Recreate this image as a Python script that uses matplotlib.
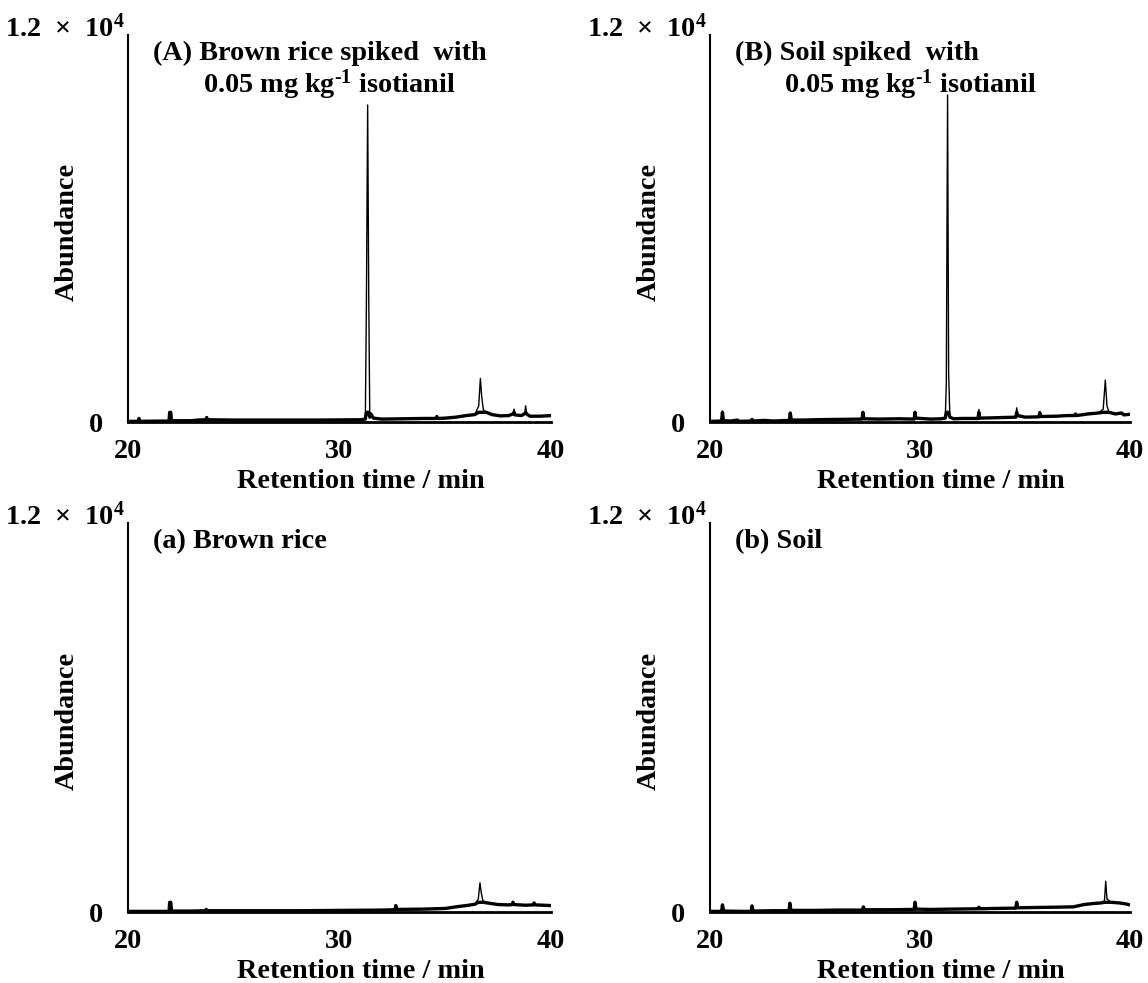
import numpy as np
import matplotlib
matplotlib.use("Agg")
import matplotlib.pyplot as plt

plt.rcParams['font.family'] = ['Liberation Serif', 'DejaVu Serif']
plt.rcParams['font.weight'] = 'bold'
plt.rcParams['mathtext.fontset'] = 'custom'
plt.rcParams['mathtext.rm'] = 'Liberation Serif:bold'
plt.rcParams['mathtext.bf'] = 'Liberation Serif:bold'
plt.rcParams['mathtext.it'] = 'Liberation Serif:bold'

# retention time (min) and abundance
# (A) brown rice spiked
t_A = [20.0, 20.48, 20.52, 20.56, 21.0, 21.94, 21.97, 22.02, 22.06, 23.0, 23.3, 23.68, 23.72, 23.76,
       25.0, 27.0, 29.0, 31.0, 31.22, 31.27, 31.33, 31.38, 31.43, 31.48, 31.6, 32.0, 33.0, 34.0,
       34.56, 34.6, 34.64, 35.0, 35.5, 36.0, 36.4, 36.58, 36.66, 36.72, 36.8, 36.95, 37.2, 37.6,
       38.0, 38.2, 38.25, 38.3, 38.6, 38.76, 38.8, 38.85, 39.0, 39.5, 40.0]
y_A = [20, 20, 110, 20, 25, 30, 310, 300, 40, 40, 60, 70, 140, 70,
       60, 60, 60, 70, 90, 3600, 9830, 4000, 150, 250, 120, 90, 100, 110,
       110, 170, 110, 120, 150, 200, 230, 500, 1350, 800, 380, 300, 230, 190,
       200, 250, 400, 220, 200, 260, 500, 250, 180, 180, 200]

# (B) soil spiked
t_B = [20.0, 20.55, 20.59, 20.64, 21.0, 21.3, 21.4, 21.96, 22.0, 22.05, 22.6, 23.0, 23.78, 23.82,
       23.87, 24.5, 25.0, 26.0, 27.24, 27.28, 27.32, 28.0, 29.0, 29.72, 29.76, 29.8, 30.5, 31.0,
       31.2, 31.25, 31.31, 31.36, 31.42, 31.6, 32.0, 32.76, 32.8, 32.84, 33.5, 34.0, 34.56, 34.6,
       34.65, 35.0, 35.66, 35.7, 35.74, 36.5, 37.0, 37.36, 37.4, 37.45, 38.0, 38.5, 38.72, 38.82,
       38.9, 39.0, 39.3, 39.6, 39.7, 40.0]
y_B = [20, 30, 340, 40, 30, 60, 20, 30, 80, 30, 50, 30, 50, 280,
       60, 60, 70, 80, 90, 310, 100, 90, 100, 90, 310, 120, 90, 100,
       120, 1200, 10140, 1500, 150, 100, 110, 110, 390, 120, 130, 140, 150, 440,
       200, 150, 160, 290, 170, 180, 200, 200, 250, 200, 250, 280, 400, 1300,
       500, 300, 250, 280, 220, 240]

# (a) brown rice blank
t_a = [20.0, 21.0, 21.94, 21.97, 22.02, 22.06, 23.0, 23.66, 23.7, 23.75, 24.0, 26.0, 28.0, 30.0,
       32.0, 32.62, 32.66, 32.7, 34.0, 35.0, 35.5, 36.0, 36.4, 36.56, 36.64, 36.7, 36.78, 37.0,
       37.5, 38.0, 38.16, 38.2, 38.25, 38.8, 39.16, 39.2, 39.25, 40.0]
y_a = [20, 20, 20, 310, 300, 30, 30, 40, 80, 40, 40, 40, 40, 50,
       60, 70, 200, 80, 90, 110, 160, 200, 240, 400, 900, 600, 350, 280,
       230, 220, 230, 330, 230, 210, 220, 280, 220, 200]

# (b) soil blank
t_b = [20.0, 20.55, 20.59, 20.65, 21.5, 21.96, 22.0, 22.05, 23.0, 23.76, 23.8, 23.85, 25.0, 26.0,
       27.26, 27.3, 27.35, 28.5, 29.72, 29.76, 29.81, 30.5, 31.5, 32.76, 32.8, 32.84, 33.5, 34.56,
       34.6, 34.65, 35.5, 36.5, 37.3, 37.8, 38.2, 38.6, 38.78, 38.84, 38.9, 39.1, 39.5, 39.8, 40.0]
y_b = [20, 20, 220, 30, 20, 20, 190, 30, 40, 40, 270, 50, 50, 60,
       60, 160, 70, 70, 80, 330, 90, 80, 90, 100, 150, 100, 110, 120,
       310, 130, 140, 150, 160, 230, 260, 280, 350, 950, 400, 300, 280, 250, 220]

titles_top = ["(A) Brown rice spiked  with", "(B) Soil spiked  with"]
title_line2 = r"0.05 mg kg$^{\text{-1}}$ isotianil"
titles_bottom = ["(a) Brown rice", "(b) Soil"]

x_ticks = [20, 30, 40]
y_max = 12000

fs = 20.3
fig = plt.figure(figsize=(11.48, 9.83), dpi=100)

boxes = [(0.1115, 0.5707, 0.3685, 0.3937), (0.6185, 0.5707, 0.3659, 0.3937),
         (0.1115, 0.0722, 0.3685, 0.3957), (0.6185, 0.0722, 0.3659, 0.3957)]
traces = [(t_A, y_A), (t_B, y_B), (t_a, y_a), (t_b, y_b)]

for i, (box, (t, y)) in enumerate(zip(boxes, traces)):
    ax = fig.add_axes(box)
    t = np.array(t)
    y = np.array(y)
    ax.plot(t, y, color='black', lw=1.0)
    # noisy baseline looks thick in the original
    ax.plot(t, np.minimum(y, 300), color='black', lw=2.4)
    ax.set_xlim(20, 40)
    ax.set_ylim(0, y_max)
    for s in ['top', 'right']:
        ax.spines[s].set_visible(False)
    ax.spines['left'].set_linewidth(1.5)
    ax.spines['bottom'].set_linewidth(2.0)
    ax.set_xticks(x_ticks)
    ax.set_xticklabels([str(v) for v in x_ticks], fontsize=fs, fontweight='bold')
    ax.set_yticks([0])
    ax.set_yticklabels(['0'], fontsize=fs, fontweight='bold')
    ax.tick_params(axis='x', length=0, pad=12)
    ax.tick_params(axis='y', length=0, pad=18)
    ax.set_xlabel('Retention time / min', fontsize=fs, fontweight='bold')
    ax.xaxis.set_label_coords(0.55, -0.122)
    ax.set_ylabel('Abundance', fontsize=fs, fontweight='bold')
    ax.yaxis.set_label_coords(-0.115, 0.49)
    ax.text(-0.008, 0.995, '1.2  \u00d7  10$^4$', transform=ax.transAxes,
            ha='right', va='baseline', fontsize=fs, fontweight='bold')
    if i < 2:
        ax.text(0.06, 0.953, titles_top[i], transform=ax.transAxes, ha='left', va='center',
                fontsize=fs, fontweight='bold')
        ax.text(0.177, 0.872, title_line2, transform=ax.transAxes, ha='left', va='center',
                fontsize=fs, fontweight='bold')
    else:
        ax.text(0.06, 0.953, titles_bottom[i - 2], transform=ax.transAxes, ha='left', va='center',
                fontsize=fs, fontweight='bold')

plt.savefig('out.png', dpi=100)
